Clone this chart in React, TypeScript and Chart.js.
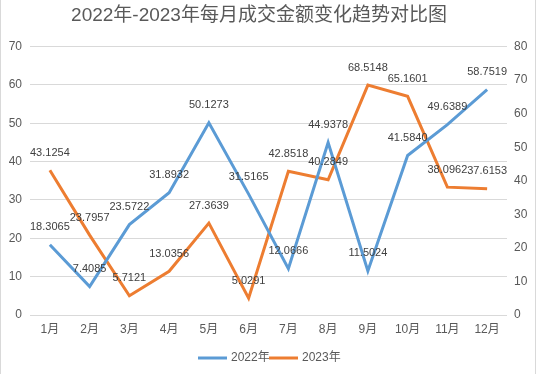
import React, { useEffect, useRef } from "react";
import { Chart, registerables } from "chart.js";

Chart.register(...registerables);

const TITLE = "2022年-2023年每月成交金额变化趋势对比图";
const MONTHS = ["1月", "2月", "3月", "4月", "5月", "6月", "7月", "8月", "9月", "10月", "11月", "12月"];
const SERIES_2022 = [18.3065, 7.4085, 23.5722, 31.8932, 50.1273, 31.5165, 12.0666, 44.9378, 11.5024, 41.584, 49.6389, 58.7519];
const SERIES_2023 = [43.1254, 23.7957, 5.7121, 13.0356, 27.3639, 5.0291, 42.8518, 40.2849, 68.5148, 65.1601, 38.0962, 37.6153];
const LABEL_2022 = ["18.3065", "7.4085", "23.5722", "31.8932", "50.1273", "31.5165", "12.0666", "44.9378", "11.5024", "41.5840", "49.6389", "58.7519"];
const LABEL_2023 = ["43.1254", "23.7957", "5.7121", "13.0356", "27.3639", "5.0291", "42.8518", "40.2849", "68.5148", "65.1601", "38.0962", "37.6153"];
const LEGEND_NAMES = ["2022年", "2023年"];
const COLORS = ["#5B9BD5", "#ED7D31"];

const FONT = '"Liberation Sans", "Noto Sans CJK SC", sans-serif';
const TEXT = "#595959";

const decorPlugin = {
  id: "decor",
  afterDatasetsDraw(chart: any) {
    const ctx = chart.ctx;
    ctx.save();
    // data labels
    const labels = [LABEL_2022, LABEL_2023];
    ctx.font = "11px " + FONT;
    ctx.fillStyle = "#404040";
    ctx.textAlign = "center";
    ctx.textBaseline = "middle";
    chart.data.datasets.forEach((ds: any, di: number) => {
      const meta = chart.getDatasetMeta(di);
      meta.data.forEach((pt: any, i: number) => {
        ctx.fillText(labels[di][i], pt.x, pt.y - 17.5);
      });
    });
    ctx.restore();
  },
  afterDraw(chart: any) {
    const ctx = chart.ctx;
    ctx.save();
    // title
    ctx.font = "19px " + FONT;
    ctx.fillStyle = TEXT;
    ctx.textAlign = "center";
    ctx.textBaseline = "middle";
    ctx.fillText(TITLE, 259, 15.5);
    // legend
    const items = [
      { x: 198, tx: 231 },
      { x: 269, tx: 302 },
    ];
    ctx.font = "12px " + FONT;
    ctx.textAlign = "left";
    items.forEach((it, i) => {
      ctx.strokeStyle = COLORS[i];
      ctx.lineWidth = 3;
      ctx.beginPath();
      ctx.moveTo(it.x, 358);
      ctx.lineTo(it.x + 29, 358);
      ctx.stroke();
      ctx.fillStyle = TEXT;
      ctx.fillText(LEGEND_NAMES[i], it.tx, 358);
    });
    // border lines
    ctx.strokeStyle = "#d9d9d9";
    ctx.lineWidth = 1;
    ctx.beginPath();
    ctx.moveTo(0.5, 0);
    ctx.lineTo(0.5, 374);
    ctx.moveTo(535.5, 0);
    ctx.lineTo(535.5, 374);
    ctx.stroke();
    ctx.restore();
  },
};

export default function App() {
  const ref = useRef<HTMLCanvasElement>(null);
  useEffect(() => {
    if (!ref.current) return;
    const chart = new Chart(ref.current, {
      type: "line",
      data: {
        labels: MONTHS,
        datasets: [
          {
            label: LEGEND_NAMES[0],
            data: SERIES_2022,
            borderColor: COLORS[0],
            backgroundColor: COLORS[0],
            borderWidth: 3,
            pointRadius: 0,
            tension: 0,
            yAxisID: "y",
          },
          {
            label: LEGEND_NAMES[1],
            data: SERIES_2023,
            borderColor: COLORS[1],
            backgroundColor: COLORS[1],
            borderWidth: 3,
            pointRadius: 0,
            tension: 0,
            yAxisID: "y1",
          },
        ],
      },
      options: {
        animation: false,
        responsive: true,
        maintainAspectRatio: false,
        layout: { padding: { top: 46.5, bottom: 0, left: 0, right: 0 } },
        plugins: {
          legend: { display: false },
          title: { display: false },
          tooltip: { enabled: false },
        },
        scales: {
          x: {
            offset: true,
            grid: { display: false, drawTicks: false },
            border: { display: false },
            ticks: { color: TEXT, font: { size: 12, family: FONT }, padding: 7, maxRotation: 0 },
            afterFit(scale: any) {
              scale.height = 59;
            },
          },
          y: {
            position: "left",
            min: 0,
            max: 70,
            ticks: { stepSize: 10, color: TEXT, font: { size: 12, family: FONT }, padding: 8 },
            grid: { color: "#d9d9d9", drawTicks: false },
            border: { display: false },
            afterFit(scale: any) {
              scale.width = 30;
            },
          },
          y1: {
            position: "right",
            min: 0,
            max: 80,
            ticks: { stepSize: 10, color: TEXT, font: { size: 12, family: FONT }, padding: 7 },
            grid: { display: false, drawTicks: false },
            border: { display: false },
            afterFit(scale: any) {
              scale.width = 31;
            },
          },
        },
      },
      plugins: [decorPlugin],
    });
    return () => chart.destroy();
  }, []);
  return (
    <div style={{ position: "fixed", left: 0, top: 0, width: 538, height: 374, background: "#fff" }}>
      <canvas ref={ref} />
    </div>
  );
}
